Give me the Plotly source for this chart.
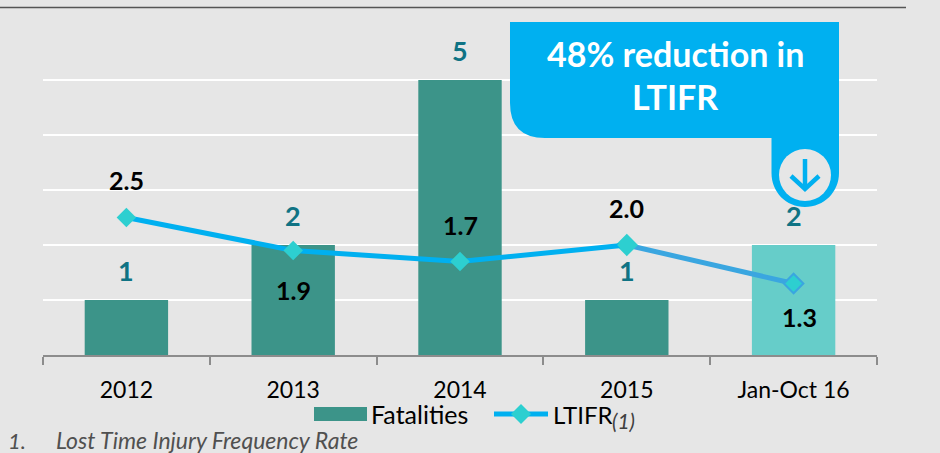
import plotly.graph_objects as go

categories = ["2012", "2013", "2014", "2015", "Jan-Oct 16"]
fatalities = [1, 2, 5, 1, 2]
ltifr = [2.5, 1.9, 1.7, 2.0, 1.3]
ltifr_labels = ["2.5", "1.9", "1.7", "2.0", "1.3"]
ltifr_shift = [38, -39, 37, 37, -33]
ltifr_xshift = [0, 0, 0, 0, 6]
bar_colors = ["#3c9489", "#3c9489", "#3c9489", "#3c9489", "#66cdc9"]

W, H = 940, 453
L, R, T, B = 43, 63, 25, 98
PW, PH = W - L - R, H - T - B
FONT = "Lato"
BLUE = "#00b0f0"
BG = "#e6e6e6"


def px(x):
    return (x - L) / PW


def py(y):
    return (H - B - y) / PH


def P(x, y):
    return f"{px(x):.5f},{py(y):.5f}"


fig = go.Figure()
fig.add_bar(x=categories, y=fatalities, marker=dict(color=bar_colors, line=dict(width=0)),
            name="Fatalities", showlegend=False)
fig.add_scatter(x=categories[3:], y=ltifr[3:], mode="lines+markers", showlegend=False,
                name="LTIFR", line=dict(color="#3aa6e0", width=5),
                marker=dict(symbol="diamond", size=15, color=["#2dcfd0", "#2dcfd0"],
                            line=dict(color=["#2dcfd0", "#3aa6e0"], width=2)))
fig.add_scatter(x=categories[:4], y=ltifr[:4], mode="lines+markers", showlegend=False,
                name="LTIFR", line=dict(color=BLUE, width=5),
                marker=dict(symbol="diamond", size=15, color="#2dcfd0"))

ann = []
for i, v in enumerate(fatalities):
    ann.append(dict(x=i, y=v, text=f"<b>{v}</b>", showarrow=False, yshift=30,
                    font=dict(family=FONT, size=27, color="#0f7384")))
for i, (v, t, s, xs) in enumerate(zip(ltifr, ltifr_labels, ltifr_shift, ltifr_xshift)):
    ann.append(dict(x=i, y=v, text=f"<b>{t}</b>", showarrow=False, yshift=s, xshift=xs,
                    font=dict(family=FONT, size=25, color="#000000")))


def note(x, y, text, size, color="#000000", anchor="left"):
    ann.append(dict(xref="paper", yref="paper", x=px(x), y=py(y), text=text, showarrow=False,
                    xanchor=anchor, yanchor="middle", font=dict(family=FONT, size=size, color=color)))


note(675, 53, "<b>48% reduction in</b>", 34, "#ffffff", "center")
note(675, 97, "<b>LTIFR</b>", 34, "#ffffff", "center")
note(369, 414, "Fatalities", 25)
note(551, 414, "LTIFR", 24)
note(610, 420, "<i>(1)</i>", 21, "#404040")
note(6, 440, "<i>1.</i>", 22, "#505050")
note(54, 440, "<i>Lost Time Injury Frequency Rate</i>", 23, "#505050")

callout = (f"M{P(510,22)} L{P(839,22)} L{P(839,173)} C{P(839,192)} {P(824,207)} {P(805,207)} "
           f"C{P(786,207)} {P(771.5,192)} {P(771.5,173)} L{P(771.5,138)} L{P(545,138)} "
           f"Q{P(510,138)} {P(510,103)} Z")
shapes = [
    dict(type="line", xref="paper", yref="paper", x0=px(0), x1=px(906), y0=py(7.5), y1=py(7.5),
         line=dict(color="#555555", width=1.5)),
    dict(type="path", xref="paper", yref="paper", path=callout, fillcolor=BLUE, line=dict(width=0)),
    dict(type="circle", xref="paper", yref="paper", x0=px(779), x1=px(831), y0=py(201), y1=py(149),
         fillcolor=BG, line=dict(width=0)),
    dict(type="path", xref="paper", yref="paper", path=f"M{P(805,159)} L{P(805,189)}",
         line=dict(color=BLUE, width=4.5)),
    dict(type="path", xref="paper", yref="paper", path=f"M{P(791,176)} L{P(805,189)} L{P(819,176)}",
         line=dict(color=BLUE, width=4.5)),
    dict(type="rect", xref="paper", yref="paper", x0=px(314), x1=px(367), y0=py(421), y1=py(407),
         fillcolor="#3c9489", line=dict(width=0)),
    dict(type="line", xref="paper", yref="paper", x0=px(494), x1=px(548), y0=py(414), y1=py(414),
         line=dict(color=BLUE, width=5)),
    dict(type="path", xref="paper", yref="paper",
         path=f"M{P(521,404)} L{P(531,414)} L{P(521,424)} L{P(511,414)} Z",
         fillcolor="#2dcfd0", line=dict(width=0)),
]

fig.update_layout(
    width=W, height=H, autosize=False, margin=dict(l=L, r=R, t=T, b=B, pad=0),
    paper_bgcolor=BG, plot_bgcolor=BG, bargap=0.5, showlegend=False,
    font=dict(family=FONT), annotations=ann, shapes=shapes,
    xaxis=dict(type="category", tickson="boundaries", ticks="outside", ticklen=8, tickwidth=2,
               tickcolor="#8c8c8c", showline=True, linecolor="#8c8c8c", linewidth=2, showgrid=False,
               tickfont=dict(family=FONT, size=23, color="#000000"), zeroline=False,
               ticklabelstandoff=13),
    yaxis=dict(range=[0, 6], dtick=1, showticklabels=False, showgrid=True, gridcolor="#ffffff",
               gridwidth=2, zeroline=False, showline=False, ticks=""),
)
fig.write_html("out.html", config=dict(displayModeBar=False),
               post_script="document.body.style.margin='0';document.body.style.overflow='hidden';"
                           "document.body.style.background='#e6e6e6';")
